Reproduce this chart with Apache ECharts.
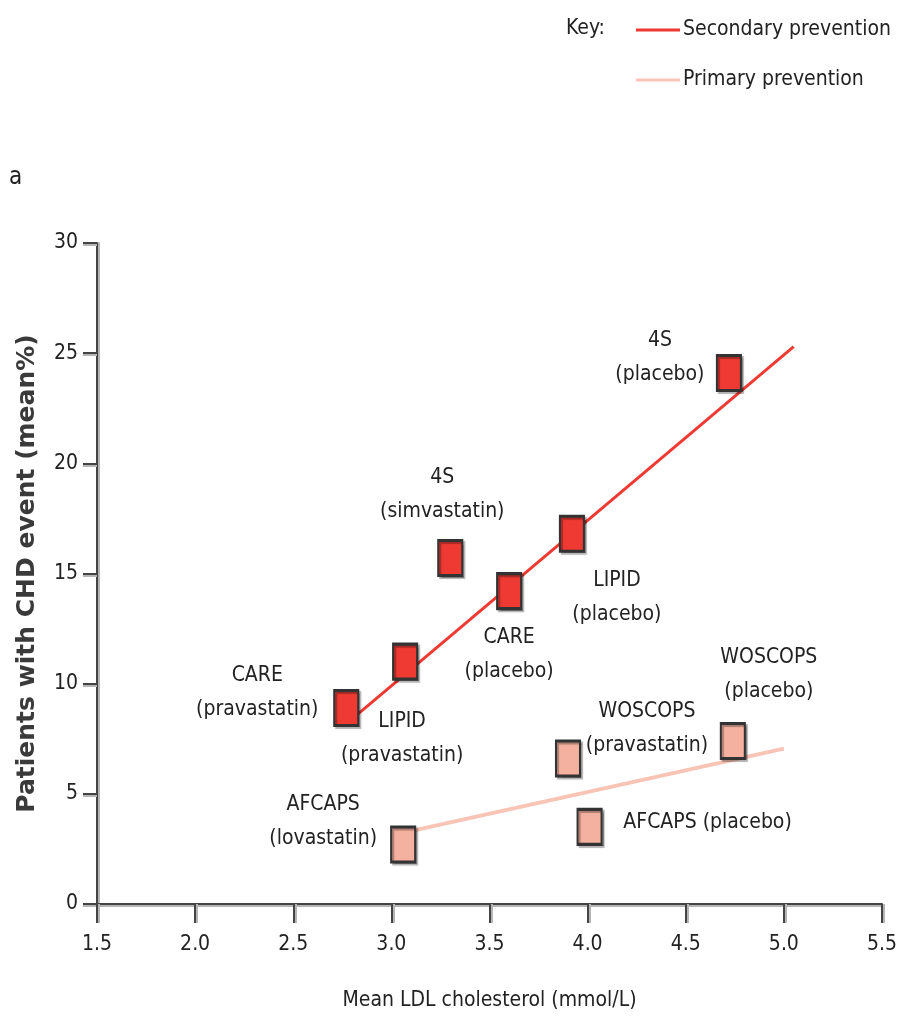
<!DOCTYPE html>
<html>
<head>
<meta charset="utf-8">
<script src="https://cdn.jsdelivr.net/npm/echarts@6/dist/echarts.min.js"></script>
<style>
  html, body { margin: 0; padding: 0; background: #fff; }
  #chart { width: 899px; height: 1016px; }
</style>
</head>
<body>
<div id="chart"></div>
<script>
// 数据
const secNames = ['CARE\n(pravastatin)', 'LIPID\n(pravastatin)', '4S\n(simvastatin)', 'CARE\n(placebo)', 'LIPID\n(placebo)', '4S\n(placebo)'];
const secLdl = [2.77, 3.07, 3.30, 3.60, 3.92, 4.72];
const secEvent = [8.9, 11.0, 15.7, 14.2, 16.8, 24.1];
const secTrend = [[2.82, 8.55], [5.05, 25.3]];

const priNames = ['AFCAPS\n(lovastatin)', 'WOSCOPS\n(pravastatin)', 'AFCAPS (placebo)', 'WOSCOPS\n(placebo)'];
const priLdl = [3.06, 3.90, 4.01, 4.74];
const priEvent = [2.7, 6.6, 3.5, 7.4];
const priTrend = [[3.07, 3.25], [5.0, 7.05]];

const xMin = 1.5, xMax = 5.5, xStep = 0.5;
const yMin = 0, yMax = 30, yStep = 5;

// 标签偏移 (px)
const secOffsets = [[-89, -15], [-3, 77], [-8, -64], [0, 63], [45, 64], [-69, -15]];
const priOffsets = [[-80, -23], [79, -30], [118, -4], [36, -66]];

const FONT = '"Liberation Sans Narrow", "DejaVu Sans Condensed", sans-serif';
const FS = 21;
const RED = '#ee3a33';
const PINK = '#f5b1a0';

const axisLineStyle = { color: '#444', width: 2, shadowColor: '#b5b5b5' };

function makePoints(names, xs, ys, offs) {
  return names.map((n, i) => ({
    name: n,
    value: [xs[i], ys[i]],
    label: { offset: offs[i] },
  }));
}

const chart = echarts.init(document.getElementById('chart'));
const option = {
  animation: false,
  backgroundColor: '#fff',
  textStyle: { fontFamily: FONT },
  grid: { left: 97, right: 17, top: 243, bottom: 112, containLabel: false, outerBoundsMode: 'none' },
  legend: {
    orient: 'vertical',
    left: 636,
    top: 18,
    padding: 0,
    itemWidth: 44,
    itemHeight: 3,
    itemGap: 26,
    icon: 'rect',
    data: ['Secondary prevention', 'Primary prevention'],
    textStyle: { fontFamily: FONT, fontSize: FS, color: '#222', lineHeight: 24, padding: [0, 0, 0, -2] },
  },
  graphic: [
    { type: 'text', left: 566, top: 18, style: { text: 'Key:', font: FS + 'px ' + FONT, fill: '#222' } },
    { type: 'text', left: 9, top: 166, style: { text: 'a', font: '24px ' + FONT, fill: '#222' } },
  ],
  xAxis: {
    type: 'value',
    min: xMin,
    max: xMax,
    interval: xStep,
    name: 'Mean LDL cholesterol (mmol/L)',
    nameLocation: 'middle',
    nameGap: 86,
    nameTextStyle: { fontFamily: FONT, fontSize: FS, color: '#222' },
    axisLine: { onZero: false, lineStyle: Object.assign({ shadowOffsetY: 2 }, axisLineStyle) },
    axisTick: { length: 19, lineStyle: Object.assign({ shadowOffsetX: 2 }, axisLineStyle) },
    axisLabel: {
      margin: 30,
      fontSize: FS,
      color: '#222',
      fontFamily: FONT,
      formatter: (v) => v.toFixed(1),
    },
    splitLine: { show: false },
  },
  yAxis: {
    type: 'value',
    min: yMin,
    max: yMax,
    interval: yStep,
    name: 'Patients with CHD event (mean%)',
    nameLocation: 'middle',
    nameRotate: 90,
    nameGap: 57,
    nameTextStyle: { fontFamily: '"DejaVu Sans", sans-serif', fontSize: 25, fontWeight: 'bold', color: '#3a3a3a' },
    axisLine: { onZero: false, lineStyle: Object.assign({ shadowOffsetX: 2 }, axisLineStyle) },
    axisTick: { length: 14, lineStyle: Object.assign({ shadowOffsetY: 2 }, axisLineStyle) },
    axisLabel: { margin: 19, fontSize: FS, color: '#222', fontFamily: FONT },
    splitLine: { show: false },
  },
  series: [
    {
      name: 'Secondary prevention',
      type: 'line',
      data: secTrend,
      symbol: 'none',
      z: 1,
      lineStyle: { color: RED, width: 3 },
      itemStyle: { color: RED },
    },
    {
      name: 'Primary prevention',
      type: 'line',
      data: priTrend,
      symbol: 'none',
      z: 1,
      lineStyle: { color: '#f9c4b5', width: 4 },
      itemStyle: { color: '#f9c4b5' },
    },
    {
      name: 'secondary trials',
      type: 'scatter',
      symbol: 'rect',
      symbolSize: [24, 35],
      z: 3,
      itemStyle: {
        color: RED, opacity: 1, borderColor: '#333', borderWidth: 2.5,
        shadowColor: 'rgba(0,0,0,0.3)', shadowOffsetX: 2, shadowOffsetY: 2, shadowBlur: 1,
      },
      label: {
        show: true, position: 'inside', formatter: (p) => p.name,
        color: '#222', fontFamily: FONT, fontSize: FS, lineHeight: 34, align: 'center',
        textBorderWidth: 0,
      },
      data: makePoints(secNames, secLdl, secEvent, secOffsets),
    },
    {
      name: 'primary trials',
      type: 'scatter',
      symbol: 'rect',
      symbolSize: [24, 35],
      z: 3,
      itemStyle: {
        color: PINK, opacity: 1, borderColor: '#333', borderWidth: 2.5,
        shadowColor: 'rgba(0,0,0,0.3)', shadowOffsetX: 2, shadowOffsetY: 2, shadowBlur: 1,
      },
      label: {
        show: true, position: 'inside', formatter: (p) => p.name,
        color: '#222', fontFamily: FONT, fontSize: FS, lineHeight: 34, align: 'center',
        textBorderWidth: 0,
      },
      data: makePoints(priNames, priLdl, priEvent, priOffsets),
    },
  ],
};
chart.setOption(option);
</script>
</body>
</html>
